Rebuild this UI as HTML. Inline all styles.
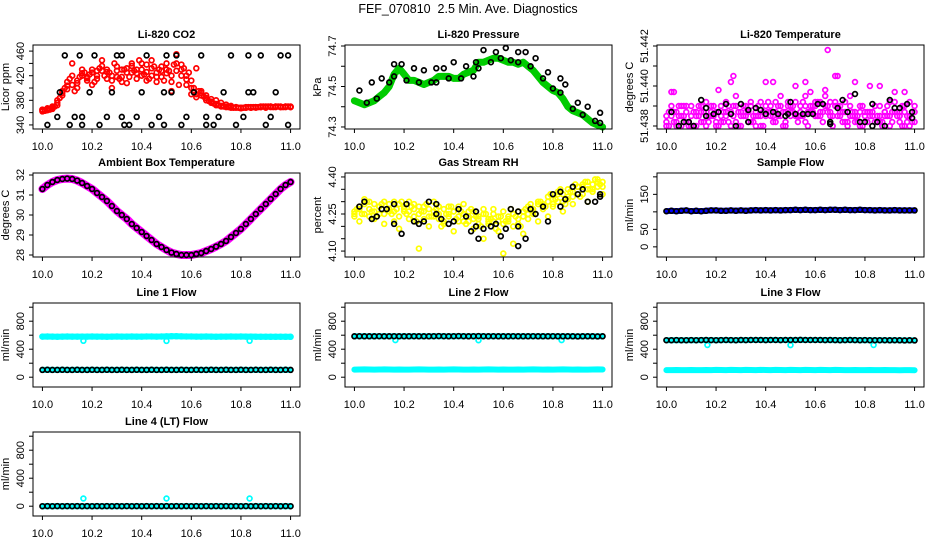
<!DOCTYPE html>
<html><head><meta charset="utf-8"><style>
html,body{margin:0;padding:0;background:#fff;}
svg text{font-family:"Liberation Sans",sans-serif;}
</style></head><body>
<svg id="c" width="936" height="540" viewBox="0 0 936 540" xmlns="http://www.w3.org/2000/svg">
<text x="468" y="13" text-anchor="middle" font-size="12.5" xml:space="preserve">FEF_070810  2.5 Min. Ave. Diagnostics</text>
</svg>
<script>
const T = [10.00,10.02,10.04,10.06,10.08,10.10,10.12,10.14,10.16,10.18,10.20,10.22,10.24,10.26,10.28,10.30,10.32,10.34,10.36,10.38,10.40,10.42,10.44,10.46,10.48,10.50,10.52,10.54,10.56,10.58,10.60,10.62,10.64,10.66,10.68,10.70,10.72,10.74,10.76,10.78,10.80,10.82,10.84,10.86,10.88,10.90,10.92,10.94,10.96,10.98,11.00];
const T2 = [10.01,10.03,10.05,10.07,10.09,10.11,10.13,10.15,10.17,10.19,10.21,10.23,10.25,10.27,10.29,10.31,10.33,10.35,10.37,10.39,10.41,10.43,10.45,10.47,10.49,10.51,10.53,10.55,10.57,10.59,10.61,10.63,10.65,10.67,10.69,10.71,10.73,10.75,10.77,10.79,10.81,10.83,10.85,10.87,10.89,10.91,10.93,10.95,10.97,10.99];
const xTicks = [10.0,10.2,10.4,10.6,10.8,11.0];
const xTickLabels = ["10.0","10.2","10.4","10.6","10.8","11.0"];

const co2A = [365,366,368,372,388,398,405,412,420,418,425,415,428,430,420,435,410,425,440,430,420,438,445,425,418,430,410,428,438,420,412,432,395,388,382,380,376,373,371,369,368,368,368,369,369,370,370,370,369,370,370];
const co2B = [362,364,366,380,395,410,440,400,430,412,405,428,445,415,400,418,430,408,425,415,440,412,420,410,435,440,395,455,420,405,390,385,392,384,378,374,370,369,368,368,367,368,369,368,369,368,370,369,370,369,369];
const co2C = [364,367,370,376,392,404,420,408,424,416,430,420,436,426,412,428,418,432,436,424,430,426,432,418,428,424,420,440,430,414,400,390,388,380,376,372,371,370,369,369,368,369,368,369,370,369,369,370,369,370,369];
const co2D = [363,365,370,384,400,415,395,418,425,422,410,432,420,425,440,415,430,418,428,445,422,415,435,430,412,428,438,405,432,425,400,395,386,379,375,372,370,369,368,368,368,369,369,369,370,370,369,370,369,370];
const co2BlackT = [10.02,10.06,10.07,10.09,10.11,10.13,10.15,10.16,10.16,10.19,10.21,10.23,10.26,10.28,10.30,10.32,10.32,10.33,10.35,10.38,10.40,10.42,10.44,10.47,10.49,10.49,10.50,10.52,10.54,10.56,10.58,10.61,10.64,10.66,10.66,10.69,10.71,10.73,10.76,10.78,10.81,10.83,10.83,10.85,10.88,10.90,10.92,10.94,10.96,10.99,10.99];
const co2BlackV = [340,353,393,453,340,353,453,340,353,393,453,340,353,393,453,453,353,340,340,353,393,453,340,353,340,393,453,393,453,340,353,393,453,353,340,340,353,393,453,340,353,453,393,393,453,340,353,393,453,340,453];

const pres = [74.43,74.42,74.41,74.42,74.43,74.45,74.47,74.50,74.56,74.59,74.56,74.53,74.53,74.52,74.51,74.52,74.53,74.55,74.55,74.55,74.54,74.54,74.56,74.57,74.58,74.62,74.62,74.63,74.64,74.64,74.63,74.62,74.62,74.61,74.62,74.60,74.58,74.55,74.52,74.50,74.48,74.47,74.44,74.40,74.38,74.37,74.36,74.34,74.32,74.31,74.30];
const presBlackT = [10.02,10.05,10.07,10.09,10.11,10.14,10.16,10.16,10.19,10.21,10.24,10.26,10.28,10.31,10.33,10.33,10.36,10.38,10.40,10.43,10.45,10.48,10.49,10.50,10.52,10.55,10.57,10.59,10.61,10.63,10.66,10.66,10.69,10.71,10.73,10.76,10.78,10.80,10.83,10.83,10.85,10.88,10.90,10.92,10.94,10.97,10.99,10.99];
const presBlackV = [74.48,74.42,74.52,74.44,74.54,74.52,74.61,74.55,74.61,74.53,74.59,74.52,74.58,74.52,74.59,74.52,74.59,74.54,74.62,74.54,74.60,74.55,74.62,74.59,74.68,74.62,74.67,74.64,74.69,74.63,74.67,74.62,74.67,74.60,74.64,74.54,74.57,74.49,74.54,74.47,74.51,74.39,74.42,74.36,74.40,74.33,74.37,74.32];

const tempA = [51.4385,51.4390,51.4380,51.4385,51.4382,51.4390,51.4380,51.4387,51.4392,51.4385,51.4382,51.4390,51.4387,51.4380,51.4395,51.4385,51.4390,51.4382,51.4387,51.4392,51.4385,51.4390,51.4382,51.4395,51.4387,51.4390,51.4392,51.4385,51.4390,51.4397,51.4392,51.4387,51.4390,51.4385,51.4392,51.4387,51.4382,51.4390,51.4385,51.4387,51.4382,51.4385,51.4390,51.4382,51.4387,51.4385,51.4392,51.4387,51.4390,51.4385,51.4382];
const tempB = [51.4382,51.4397,51.4387,51.4380,51.4390,51.4385,51.4387,51.4382,51.4380,51.4390,51.4387,51.4382,51.4385,51.4402,51.4382,51.4387,51.4385,51.4390,51.4380,51.4385,51.4402,51.4385,51.4387,51.4390,51.4382,51.4385,51.4400,51.4387,51.4395,51.4390,51.4385,51.4392,51.4398,51.4387,51.4405,51.4390,51.4387,51.4395,51.4382,51.4390,51.4387,51.4400,51.4390,51.4385,51.4387,51.4392,51.4397,51.4385,51.4380,51.4392,51.4387];
const tempC = [51.4380,51.4385,51.4382,51.4390,51.4387,51.4380,51.4385,51.4390,51.4385,51.4387,51.4380,51.4385,51.4392,51.4387,51.4390,51.4380,51.4387,51.4392,51.4385,51.4380,51.4390,51.4387,51.4392,51.4385,51.4380,51.4387,51.4385,51.4390,51.4382,51.4387,51.4390,51.4385,51.4395,51.4392,51.4390,51.4385,51.4392,51.4385,51.4387,51.4380,51.4385,51.4387,51.4382,51.4390,51.4385,51.4380,51.4387,51.4382,51.4387,51.4380,51.4390];
const tempD = [51.4387,51.4382,51.4390,51.4385,51.4380,51.4387,51.4390,51.4382,51.4385,51.4390,51.4387,51.4382,51.4390,51.4385,51.4387,51.4390,51.4382,51.4385,51.4390,51.4387,51.4392,51.4385,51.4390,51.4387,51.4392,51.4390,51.4385,51.4392,51.4387,51.4390,51.4392,51.4387,51.4390,51.4385,51.4390,51.4387,51.4382,51.4387,51.4385,51.4390,51.4382,51.4387,51.4385,51.4382,51.4390,51.4387,51.4385,51.4390,51.4382,51.4387];
const tempE = [51.4380,51.4387,51.4385,51.4390,51.4382,51.4380,51.4385,51.4387,51.4382,51.4385,51.4380,51.4387,51.4382,51.4390,51.4380,51.4385,51.4387,51.4382,51.4385,51.4380,51.4387,51.4382,51.4385,51.4380,51.4390,51.4387,51.4382,51.4385,51.4380,51.4387,51.4385,51.4382,51.4387,51.4380,51.4385,51.4382,51.4380,51.4385,51.4382,51.4380,51.4387,51.4385,51.4382,51.4380,51.4385,51.4382,51.4387,51.4380,51.4385,51.4382];
const tempOutT = [10.03,10.21,10.27,10.43,10.56,10.65,10.69,10.76,10.86,10.96];
const tempOutV = [51.4397,51.4398,51.4405,51.4402,51.4402,51.4418,51.4405,51.4402,51.4400,51.4397];
const tempBlackT = [10.02,10.05,10.07,10.09,10.11,10.14,10.16,10.16,10.19,10.21,10.24,10.26,10.28,10.30,10.33,10.33,10.36,10.38,10.40,10.43,10.45,10.48,10.49,10.50,10.52,10.55,10.57,10.59,10.61,10.63,10.66,10.66,10.69,10.71,10.73,10.76,10.78,10.80,10.83,10.83,10.85,10.88,10.90,10.92,10.94,10.97,10.99,10.99];
const tempBlackV = [51.4387,51.4380,51.4382,51.4382,51.4380,51.4393,51.4385,51.4389,51.4386,51.4387,51.4391,51.4386,51.4380,51.4391,51.4388,51.4382,51.4389,51.4388,51.4386,51.4387,51.4386,51.4385,51.4386,51.4392,51.4386,51.4386,51.4386,51.4386,51.4391,51.4391,51.4382,51.4381,51.4389,51.4393,51.4387,51.4396,51.4382,51.4382,51.4391,51.4380,51.4382,51.4380,51.4393,51.4389,51.4389,51.4391,51.4387,51.4384];

const amb = [31.3,31.5,31.65,31.75,31.8,31.82,31.8,31.72,31.6,31.45,31.3,31.1,30.9,30.7,30.45,30.2,30.0,29.8,29.55,29.35,29.15,28.95,28.75,28.55,28.4,28.25,28.12,28.05,28.0,28.0,28.0,28.05,28.1,28.2,28.3,28.42,28.55,28.7,28.9,29.1,29.3,29.55,29.8,30.05,30.3,30.55,30.8,31.05,31.3,31.5,31.65];

const rhA = [4.24,4.28,4.31,4.27,4.29,4.25,4.30,4.27,4.22,4.29,4.26,4.30,4.24,4.28,4.23,4.27,4.30,4.25,4.22,4.28,4.26,4.24,4.29,4.22,4.26,4.23,4.27,4.21,4.25,4.22,4.26,4.23,4.20,4.26,4.24,4.28,4.25,4.30,4.27,4.32,4.29,4.33,4.30,4.35,4.32,4.36,4.33,4.38,4.35,4.39,4.36];
const rhB = [4.26,4.22,4.25,4.30,4.23,4.28,4.21,4.26,4.30,4.19,4.27,4.23,4.29,4.11,4.26,4.20,4.24,4.28,4.21,4.25,4.18,4.28,4.22,4.26,4.19,4.24,4.15,4.22,4.27,4.18,4.09,4.24,4.13,4.21,4.17,4.23,4.26,4.22,4.29,4.24,4.28,4.34,4.26,4.31,4.29,4.33,4.37,4.30,4.34,4.38,4.33];
const rhC = [4.25,4.27,4.29,4.24,4.26,4.28,4.25,4.29,4.26,4.24,4.28,4.26,4.27,4.25,4.28,4.24,4.26,4.23,4.27,4.24,4.26,4.22,4.25,4.24,4.23,4.21,4.25,4.23,4.22,4.24,4.21,4.22,4.25,4.23,4.26,4.25,4.27,4.29,4.28,4.30,4.31,4.30,4.33,4.32,4.34,4.33,4.36,4.35,4.37,4.36,4.38];
const rhD = [4.27,4.25,4.30,4.26,4.24,4.29,4.27,4.25,4.27,4.30,4.25,4.28,4.22,4.26,4.29,4.24,4.27,4.20,4.25,4.28,4.23,4.26,4.21,4.27,4.24,4.20,4.25,4.23,4.19,4.24,4.22,4.27,4.24,4.20,4.27,4.29,4.25,4.30,4.28,4.33,4.31,4.35,4.29,4.34,4.37,4.32,4.38,4.35,4.39,4.37];
const rhBlackT = [10.02,10.04,10.07,10.09,10.11,10.13,10.16,10.16,10.19,10.21,10.24,10.26,10.28,10.30,10.33,10.33,10.35,10.38,10.40,10.42,10.45,10.47,10.49,10.49,10.50,10.52,10.55,10.57,10.59,10.61,10.63,10.66,10.66,10.66,10.69,10.71,10.73,10.76,10.78,10.80,10.83,10.83,10.85,10.88,10.90,10.92,10.94,10.97,10.99,10.99];
const rhBlackV = [4.28,4.30,4.23,4.24,4.27,4.27,4.29,4.21,4.17,4.29,4.22,4.21,4.22,4.30,4.29,4.25,4.23,4.21,4.22,4.27,4.24,4.18,4.26,4.20,4.15,4.19,4.20,4.21,4.16,4.19,4.27,4.26,4.20,4.12,4.15,4.27,4.25,4.28,4.22,4.33,4.34,4.28,4.31,4.36,4.33,4.35,4.30,4.30,4.32,4.33];

const sampleFlow = [102,103,102,103,104,102,103,102,103,104,104,103,103,104,103,104,103,104,105,104,105,104,105,104,105,105,106,105,106,105,105,106,105,106,106,105,106,105,105,106,105,105,104,105,104,104,105,104,104,104,104];

const dipT = [10.165,10.50,10.835];
const line1Cyan = [580,581,580,579,580,581,580,580,580,580,581,580,580,579,580,581,580,580,581,580,580,582,581,580,581,583,585,584,583,582,581,580,580,581,580,579,580,580,581,580,581,580,580,579,578,578,577,577,578,577,577];
const line1Dip = [520,518,520];
const line1Black = [105,106,105,105,106,105,105,106,105,105,106,105,105,106,105,105,106,105,105,106,105,105,106,105,105,106,105,105,106,105,105,106,105,105,106,105,105,106,105,105,106,105,105,106,105,105,106,105,105,106,105];
const line2Cyan = [108,110,111,110,109,110,111,110,109,110,108,109,110,111,110,109,108,110,109,110,111,110,109,108,110,109,110,111,110,109,110,109,108,110,109,110,111,110,109,110,109,110,111,110,109,110,108,109,110,111,110];
const line2Dip = [530,528,530];
const line2Black = [585,586,585,584,585,586,585,584,586,585,584,585,586,585,584,585,586,587,586,585,586,587,586,585,586,587,586,585,586,585,584,585,586,585,584,585,586,585,584,585,586,585,584,585,584,583,584,585,584,583,584];
const line3Cyan = [102,101,103,102,101,103,102,101,103,102,104,103,102,104,103,102,104,103,102,104,103,102,104,103,102,104,103,102,104,103,102,104,103,102,104,103,102,101,103,102,101,103,102,101,103,102,101,100,102,101,100];
const line3Dip = [460,458,460];
const line3Black = [528,529,530,529,528,530,529,530,531,530,529,530,531,530,529,531,530,531,532,531,530,532,531,530,532,531,532,533,532,531,532,531,530,531,530,529,530,531,530,529,530,529,528,529,528,527,528,527,526,527,526];
const line4Dip = [110,110,110];
const line4Black = [0,1,0,1,0,1,0,1,0,1,0,1,0,1,0,1,0,1,0,1,0,1,0,1,0,1,0,1,0,1,0,1,0,1,0,1,0,1,0,1,0,1,0,1,0,1,0,1,0,1,0];

const flowTicks = [0,200,400,600,800,1000];
const flowTickLabels = ["0","","400","","800",""];

const NS = "http://www.w3.org/2000/svg";
const svg = document.getElementById('c');
const colX = [33,345,657], rowY = [45,173,303,432], W = 267, H = 84;
const XMIN = 9.962, XMAX = 11.038;

function mk(tag, attrs, parent){
  const e = document.createElementNS(NS, tag);
  for (const k in attrs) e.setAttribute(k, attrs[k]);
  (parent || svg).appendChild(e);
  return e;
}

function panel(cfg){
  const L = colX[cfg.col], Tp = rowY[cfg.row];
  const g = mk('g', {});
  
  
  const sx = t => L + (t - XMIN) / (XMAX - XMIN) * W;
  const sy = v => Tp + H - (v - cfg.ymin) / (cfg.ymax - cfg.ymin) * H;
  const tt = mk('text', {x: L + W/2, y: Tp - 7, 'text-anchor':'middle', 'font-size':'11', 'font-weight':'bold'}, g);
  tt.textContent = cfg.title;
  
  
  const marks = mk('g', {}, g);
  
  
  cfg.series.forEach(s => {
    const xs = s.t || T;
    if (s.line) {
      const pts = s.v.map((v,i) => sx(xs[i]).toFixed(1) + ',' + sy(v).toFixed(1)).join(' ');
      const pl = mk('polyline', {points: pts, fill:'none', stroke: s.color, 'stroke-width': s.line, 'stroke-linejoin':'round', 'stroke-linecap':'round'}, marks);
      
      
    }
    if (s.pts !== false) {
      s.v.forEach((v,i) => {
        const c = mk('circle', {cx: sx(xs[i]).toFixed(1), cy: sy(v).toFixed(1), r: 2.4, fill:'none', stroke: s.color, 'stroke-width': 1.7}, marks);
        
        
      });
    }
  });
  const box = mk('rect', {x: L, y: Tp, width: W, height: H, fill:'none', stroke:'#000', 'stroke-width':1}, g);
  
  
  const xa = mk('g', {}, g);
  
  
  xTicks.forEach((t,i) => {
    mk('line', {x1: sx(t), x2: sx(t), y1: Tp+H, y2: Tp+H+4, stroke:'#000'}, xa);
    const lb = mk('text', {x: sx(t), y: Tp+H+21, 'text-anchor':'middle', 'font-size':'11'}, xa);
    lb.textContent = xTickLabels[i];
    
    
  });
  const ya = mk('g', {}, g);
  
  
  cfg.yTicks.forEach((v,i) => {
    const y = sy(v);
    mk('line', {x1: L-4, x2: L, y1: y, y2: y, stroke:'#000'}, ya);
    const s = cfg.yLabels[i];
    if (s) {
      const lb = mk('text', {x: L-9, y: y, 'text-anchor':'middle', 'font-size':'11', transform:`rotate(-90 ${L-9} ${y})`}, ya);
      lb.textContent = s;
      
      
    }
  });
  const yt = mk('text', {x: L-24, y: Tp+H/2, 'text-anchor':'middle', 'font-size':'11', transform:`rotate(-90 ${L-24} ${Tp+H/2})`}, g);
  yt.textContent = cfg.ylab;
  
  
}

panel({name:'co2', title:'Li-820 CO2', col:0, row:0, ymin:333.4, ymax:469.9, ylab:'Licor ppm',
  yTicks:[340,360,380,400,420,440,460], yLabels:["340","","380","","420","","460"],
  series:[{v:co2C,color:'#ff0000'},{v:co2A,color:'#ff0000'},{v:co2B,color:'#ff0000'},{t:T2,v:co2D,color:'#ff0000'},{t:co2BlackT,v:co2BlackV,color:'#000'}]});
panel({name:'pressure', title:'Li-820 Pressure', col:1, row:0, ymin:74.29, ymax:74.705, ylab:'kPa',
  yTicks:[74.3,74.4,74.5,74.6,74.7], yLabels:["74.3","","74.5","","74.7"],
  series:[{v:pres,color:'#00cc00',line:7},{t:presBlackT,v:presBlackV,color:'#000'}]});
panel({name:'temperature', title:'Li-820 Temperature', col:2, row:0, ymin:51.43785, ymax:51.44205, ylab:'degrees C',
  yTicks:[51.438,51.439,51.440,51.441,51.442], yLabels:["51.438","","51.440","","51.442"],
  series:[{v:tempA,color:'#ff00ff'},{v:tempB,color:'#ff00ff'},{v:tempC,color:'#ff00ff'},{t:T2,v:tempD,color:'#ff00ff'},{t:T2,v:tempE,color:'#ff00ff'},{t:tempOutT,v:tempOutV,color:'#ff00ff'},{t:tempBlackT,v:tempBlackV,color:'#000'}]});
panel({name:'ambient', title:'Ambient Box Temperature', col:0, row:1, ymin:27.9, ymax:32.1, ylab:'degrees C',
  yTicks:[28,29,30,31,32], yLabels:["28","29","30","31","32"],
  series:[{v:amb,color:'#ff00ff',line:8,pts:false},{v:amb,color:'#000'}]});
panel({name:'rh', title:'Gas Stream RH', col:1, row:1, ymin:4.076, ymax:4.416, ylab:'percent',
  yTicks:[4.10,4.15,4.20,4.25,4.30,4.35,4.40], yLabels:["4.10","","","4.25","","","4.40"],
  series:[{v:rhC,color:'#ffff00'},{v:rhA,color:'#ffff00'},{v:rhB,color:'#ffff00'},{t:T2,v:rhD,color:'#ffff00'},{t:rhBlackT,v:rhBlackV,color:'#000'}]});
panel({name:'sample-flow', title:'Sample Flow', col:2, row:1, ymin:-29, ymax:211, ylab:'ml/min',
  yTicks:[0,50,100,150,200], yLabels:["0","50","","150",""],
  series:[{v:sampleFlow,color:'#0000ff',line:6,pts:false},{v:sampleFlow,color:'#000'}]});
panel({name:'line1-flow', title:'Line 1 Flow', col:0, row:2, ymin:-140, ymax:1060, ylab:'ml/min',
  yTicks:flowTicks, yLabels:flowTickLabels,
  series:[{v:line1Cyan,color:'#00ffff',line:6},{t:dipT,v:line1Dip,color:'#00ffff'},{v:line1Black,color:'#00ffff',line:6,pts:false},{v:line1Black,color:'#000'}]});
panel({name:'line2-flow', title:'Line 2 Flow', col:1, row:2, ymin:-140, ymax:1060, ylab:'ml/min',
  yTicks:flowTicks, yLabels:flowTickLabels,
  series:[{v:line2Cyan,color:'#00ffff',line:6,pts:false},{v:line2Black,color:'#00ffff',line:6,pts:false},{t:dipT,v:line2Dip,color:'#00ffff'},{v:line2Black,color:'#000'}]});
panel({name:'line3-flow', title:'Line 3 Flow', col:2, row:2, ymin:-140, ymax:1060, ylab:'ml/min',
  yTicks:flowTicks, yLabels:flowTickLabels,
  series:[{v:line3Cyan,color:'#00ffff',line:6,pts:false},{v:line3Black,color:'#00ffff',line:6,pts:false},{t:dipT,v:line3Dip,color:'#00ffff'},{v:line3Black,color:'#000'}]});
panel({name:'line4-flow', title:'Line 4 (LT) Flow', col:0, row:3, ymin:-140, ymax:1060, ylab:'ml/min',
  yTicks:flowTicks, yLabels:flowTickLabels,
  series:[{v:line4Black,color:'#00ffff',line:6,pts:false},{t:dipT,v:line4Dip,color:'#00ffff'},{v:line4Black,color:'#000'}]});
</script>
</body></html>
